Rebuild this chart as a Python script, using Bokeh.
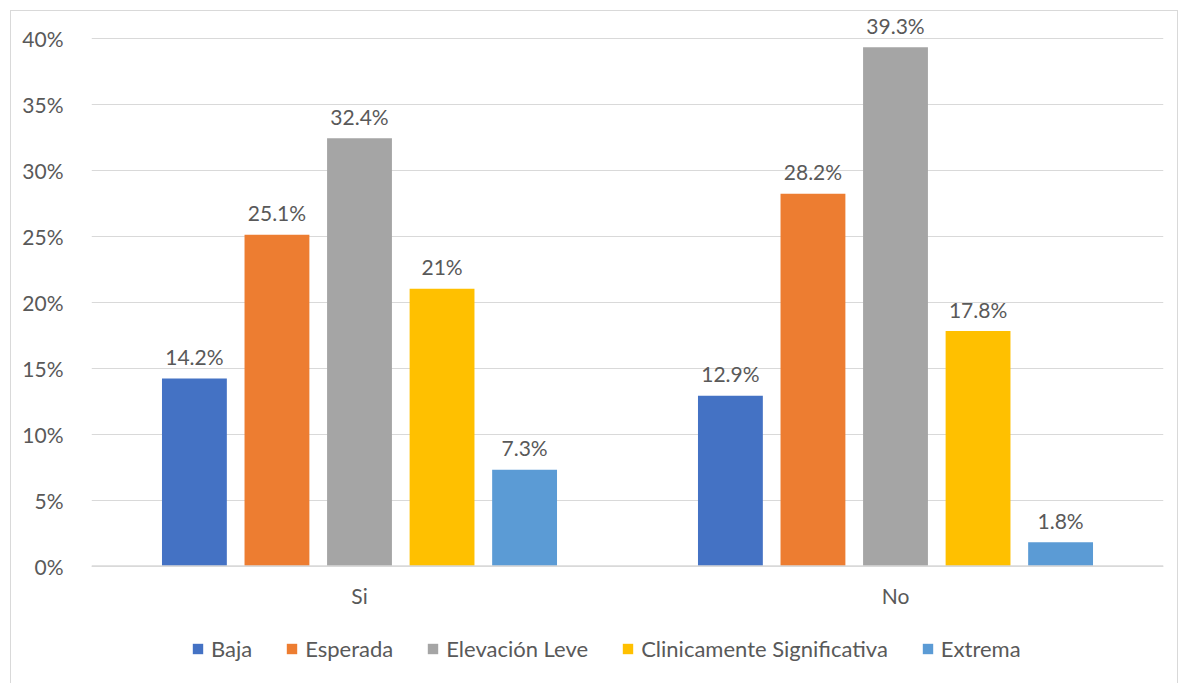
from bokeh.plotting import figure
from bokeh.models import (FactorRange, Range1d, ColumnDataSource, Legend, LegendItem,
                          PrintfTickFormatter, FixedTicker, Span)
from bokeh.transform import dodge
from bokeh.core.properties import value
from bokeh.embed import file_html
from bokeh.resources import INLINE

categories = ["Si", "No"]
series = ["Baja", "Esperada", "Elevación Leve", "Clinicamente Significativa", "Extrema"]
colors = ["#4472C4", "#ED7D31", "#A5A5A5", "#FFC000", "#5B9BD5"]
baja = [14.2, 12.9]
esperada = [25.1, 28.2]
elevacion = [32.4, 39.3]
clinica = [21.0, 17.8]
extrema = [7.3, 1.8]
y_ticks = [0, 5, 10, 15, 20, 25, 30, 35, 40]

FONT = "Lato"
FS = "21px"
LFS = "22px"
TXT = "#595959"
GRID = "#d9d9d9"

values = [baja, esperada, elevacion, clinica, extrema]
data = {"cat": categories, "zero": [0, 0]}
for i, v in enumerate(values):
    data[f"s{i}"] = v
    data[f"l{i}"] = [f"{x:g}%" for x in v]
src = ColumnDataSource(data)

p = figure(x_range=FactorRange(*categories, range_padding=0),
           y_range=Range1d(-9.053, 42.008),
           frame_width=1072, frame_height=674,
           output_backend="svg", toolbar_location=None,
           min_border_left=80, min_border_right=14, min_border_top=0, min_border_bottom=0)
p.styles = {"margin-left": "10px", "margin-top": "10px",
            "border": "1.5px solid #d9d9d9"}

pitch = 0.154
bw = 0.121
items = []
for i, name in enumerate(series):
    off = (i - 2) * pitch
    r = p.vbar(x=dodge("cat", off, range=p.x_range), top=f"s{i}", width=bw, source=src,
               fill_color=colors[i], line_color=None)
    p.text(x=dodge("cat", off, range=p.x_range), y=f"s{i}", text=f"l{i}", source=src,
           text_align="center", text_baseline="alphabetic", y_offset=-22,
           text_font=value(FONT), text_font_size=FS, text_color=TXT)
    items.append(LegendItem(label=name, renderers=[r]))

# category labels under the baseline
p.text(x="cat", y="zero", text="cat", source=src, text_align="center",
       text_baseline="alphabetic", y_offset=29,
       text_font=value(FONT), text_font_size=FS, text_color=TXT)

p.add_layout(Span(location=0, dimension="width", line_color=GRID, line_width=1.5))

p.outline_line_color = None
p.xaxis.visible = False
p.xgrid.grid_line_color = None
p.ygrid.grid_line_color = GRID
p.ygrid.grid_line_width = 1
p.yaxis.ticker = FixedTicker(ticks=y_ticks)
p.yaxis.formatter = PrintfTickFormatter(format="%d%%")
p.yaxis.axis_line_color = None
p.yaxis.major_tick_line_color = None
p.yaxis.minor_tick_line_color = None
p.yaxis.major_label_standoff = 22
p.yaxis.major_label_text_font = FONT
p.yaxis.major_label_text_font_size = FS
p.yaxis.major_label_text_color = TXT

legend = Legend(items=items, orientation="horizontal", location=(100, 23),
                glyph_width=13, glyph_height=13, label_standoff=7, spacing=33,
                label_text_font=FONT, label_text_font_size=LFS, label_text_color=TXT,
                border_line_color=None, background_fill_alpha=0, margin=0, padding=0)
p.add_layout(legend, "center")

open("out.html", "w").write(file_html(p, INLINE))
